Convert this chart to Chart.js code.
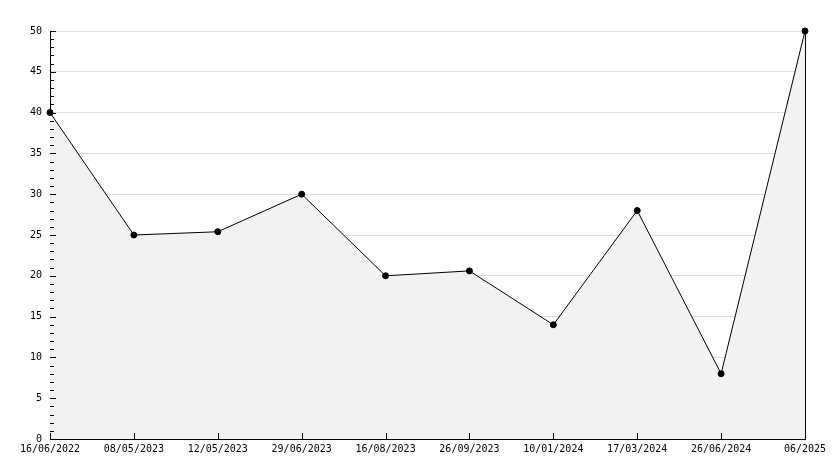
<!DOCTYPE html>
<html>
<head>
<meta charset="utf-8">
<script src="https://cdn.jsdelivr.net/npm/chart.js@4/dist/chart.umd.min.js"></script>
<style>
html,body{margin:0;padding:0;background:#fff;}
#wrap{width:834px;height:468px;position:relative;}
</style>
</head>
<body>
<div id="wrap"><canvas id="c" width="834" height="468"></canvas></div>
<script>
const categories = ["16/06/2022","08/05/2023","12/05/2023","29/06/2023","16/08/2023","26/09/2023","10/01/2024","17/03/2024","26/06/2024","06/2025"];
const values = [40, 25, 25.4, 30, 20, 20.6, 14, 28, 8, 50];
const yMin = 0, yMax = 50, yMajorStep = 5, yMinorStep = 1;

const tickPlugin = {
  id: 'innerTicks',
  afterDatasetsDraw(chart) {
    const ctx = chart.ctx;
    const a = chart.chartArea;
    const xs = chart.scales.x, ys = chart.scales.y;
    ctx.save();
    ctx.strokeStyle = '#000';
    ctx.lineWidth = 1;
    ctx.beginPath();
    // right border
    ctx.moveTo(Math.round(a.right) + 0.5, a.top);
    ctx.lineTo(Math.round(a.right) + 0.5, a.bottom);
    // x ticks (inward)
    for (let i = 0; i < categories.length; i++) {
      const px = Math.round(xs.getPixelForValue(i)) + 0.5;
      ctx.moveTo(px, a.bottom);
      ctx.lineTo(px, a.bottom - 6);
    }
    // y ticks (inward), major and minor
    for (let v = yMin; v <= yMax; v += yMinorStep) {
      const py = Math.round(ys.getPixelForValue(v)) + 0.5;
      const len = (v % yMajorStep === 0) ? 6 : 4;
      ctx.moveTo(a.left, py);
      ctx.lineTo(a.left + len, py);
    }
    ctx.stroke();
    ctx.restore();
  }
};

new Chart(document.getElementById('c'), {
  type: 'line',
  data: {
    labels: categories,
    datasets: [{
      data: values,
      borderColor: '#000',
      borderWidth: 1,
      backgroundColor: '#f2f2f2',
      fill: 'origin',
      tension: 0,
      clip: false,
      pointRadius: 3,
      pointHoverRadius: 3,
      pointBackgroundColor: '#000',
      pointBorderColor: '#000',
      pointBorderWidth: 1
    }]
  },
  options: {
    responsive: false,
    animation: false,
    events: [],
    layout: { padding: { left: 0, right: 29, top: 31, bottom: 0 } },
    plugins: { legend: { display: false }, tooltip: { enabled: false } },
    scales: {
      x: {
        type: 'category',
        offset: false,
        grid: { display: false, drawTicks: false },
        border: { display: true, color: '#000', width: 1 },
        ticks: {
          color: '#000',
          font: { family: 'DejaVu Sans Mono', size: 10 },
          padding: 4,
          maxRotation: 0,
          autoSkip: false
        },
        afterFit(scale) { scale.height = 29; }
      },
      y: {
        min: yMin,
        max: yMax,
        grid: { color: '#dddddd', lineWidth: 1, drawTicks: false },
        border: { display: true, color: '#000', width: 1 },
        ticks: {
          stepSize: yMajorStep,
          color: '#000',
          font: { family: 'DejaVu Sans Mono', size: 10 },
          padding: 8
        },
        afterFit(scale) { scale.width = 50; }
      }
    }
  },
  plugins: [tickPlugin]
});
</script>
</body>
</html>
